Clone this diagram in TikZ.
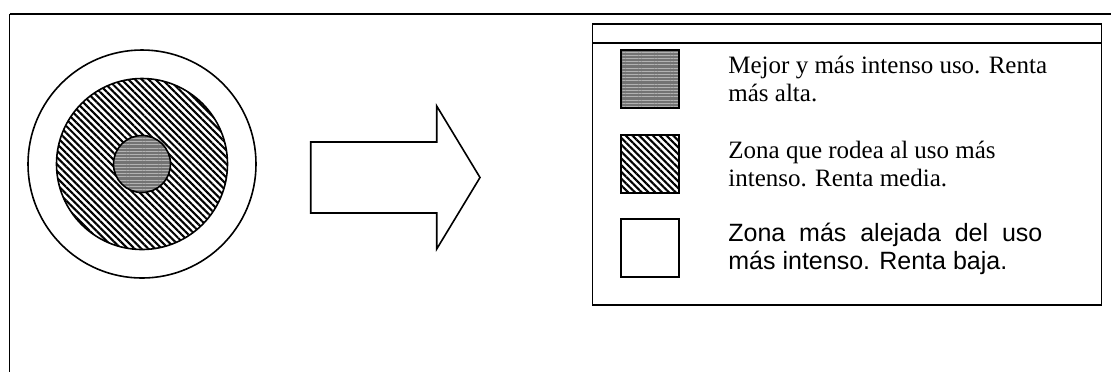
\documentclass[tikz,border=0pt]{standalone}
\usepackage{fontspec}
\setmainfont{Liberation Serif}
\newfontfamily\arial{Liberation Sans}
\usepackage{tikz}
\usetikzlibrary{shapes, patterns.meta, positioning}

\begin{document}
\begin{tikzpicture}[x=0.5pt, y=-0.5pt,
        zona/.style={circle, draw, line width=0.8pt, inner sep=0pt},
        muestra/.style={draw, line width=0.9pt, minimum size=29pt, inner sep=0pt},
        gris/.style={preaction={fill=black!55}, pattern={Lines[angle=0, distance=1.6pt, line width=0.5pt]}, pattern color=black!30},
        rayado/.style={pattern={Lines[angle=-45, distance=2.4pt, line width=1.05pt]}},
        texto/.style={anchor=base west, align=left, inner sep=0pt, font=\fontsize{12.5}{14}\selectfont}]
        \useasboundingbox (0,0) rectangle (1111,372);
        % marco
        \draw[line width=1.1pt] (9.5,14) -- (1111,14);
        \draw[line width=0.6pt] (9.5,14) -- (9.5,372);
        % zonas
        \node[zona, fill=white, minimum size=114pt] (exterior) at (142,164) {};
        \node[zona, rayado, minimum size=85.5pt]    (media)    at (142,164) {};
        \node[zona, gris, minimum size=28.5pt]      (centro)   at (142,164) {};
        % flecha
        \draw[line width=0.8pt, line join=miter] (310.7,142) -- (436.7,142) -- (436.7,106)
          -- (480,177.5) -- (436.7,249) -- (436.7,213) -- (310.7,213) -- cycle;
        % leyenda
        \node[draw, line width=0.7pt, minimum width=254.4pt, minimum height=140.5pt, inner sep=0pt]
          (leyenda) at (847.1,164.5) {};
        \draw[line width=1.1pt] ([yshift=-9.75pt]leyenda.north west) -- ([yshift=-9.75pt]leyenda.north east);
        \node[muestra, gris]   (m1) at (649.7,78.8)  {};
        \node[muestra, rayado] (m2) at (649.7,164.2) {};
        \node[muestra]         (m3) at (649.7,248.3) {};
        \node[texto] (t1) at (728,101.7) {Mejor y más intenso uso. Renta\\más alta.};
        \node[texto] (t2) at (728,186.5) {Zona que rodea al uso más\\intenso. Renta media.};
        \node[texto, font=\arial\fontsize{12.5}{14}\selectfont] (t3) at (728,269)
          {\makebox[157pt][s]{Zona más alejada del uso}\\más intenso. Renta baja.};
\end{tikzpicture}
\end{document}
